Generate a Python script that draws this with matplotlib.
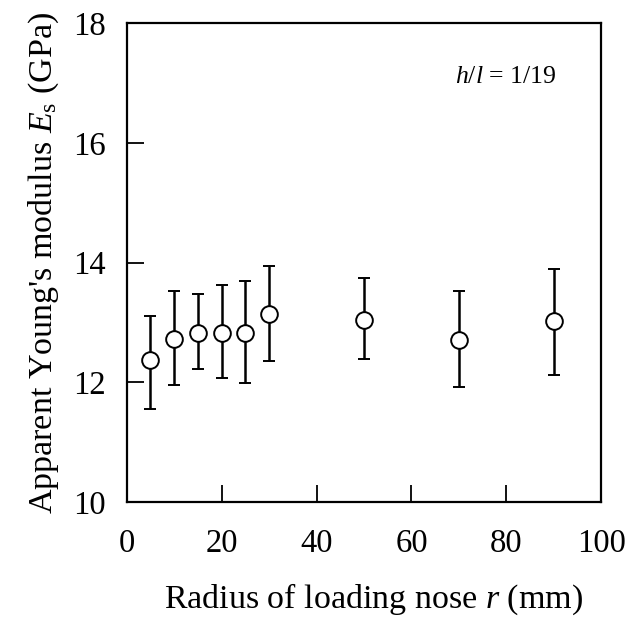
import matplotlib
matplotlib.use("Agg")
import matplotlib.pyplot as plt

plt.rcParams['font.family'] = 'Liberation Serif'
plt.rcParams['mathtext.fontset'] = 'custom'
plt.rcParams['mathtext.rm'] = 'Liberation Serif'
plt.rcParams['mathtext.it'] = 'Liberation Serif:italic'

# nose radius (mm) and apparent modulus (GPa)
radius = [5, 10, 15, 20, 25, 30, 50, 70, 90]
modulus = [12.37, 12.73, 12.82, 12.83, 12.82, 13.14, 13.04, 12.70, 13.02]
err_hi = [13.11, 13.53, 13.48, 13.62, 13.70, 13.94, 13.74, 13.53, 13.90]
err_lo = [11.56, 11.95, 12.23, 12.08, 11.99, 12.35, 12.39, 11.93, 12.13]

xticks = [0, 20, 40, 60, 80, 100]
yticks = [10, 12, 14, 16, 18]

lower = [m - lo for m, lo in zip(modulus, err_lo)]
upper = [hi - m for m, hi in zip(modulus, err_hi)]

fig = plt.figure(figsize=(6.38, 6.23), dpi=100)
ax = fig.add_axes([0.1985, 0.194, 0.744, 0.769])

ax.errorbar(radius, modulus, yerr=[lower, upper], fmt='o', color='black',
            mfc='white', mec='black', ms=12, mew=1.4, elinewidth=1.8,
            capsize=4.5, capthick=1.8)

ax.set_xlim(0, 100)
ax.set_ylim(10, 18)
ax.set_xticks(xticks)
ax.set_yticks(yticks)
ax.tick_params(direction='in', length=12, width=1.3, labelsize=23.5)
ax.tick_params(axis='x', pad=19)
ax.tick_params(axis='y', pad=15)
for s in ax.spines.values():
    s.set_linewidth(1.6)

ax.set_xlabel(r'Radius of loading nose $r$ (mm)', fontsize=24.5, labelpad=18)
ax.xaxis.set_label_coords(0.52, -0.165)
ax.set_ylabel(r"Apparent Young's modulus $E_{\mathrm{s}}$ (GPa)", fontsize=24.5, labelpad=9)
ax.text(0.906, 0.874, r'$h/l$ = 1/19', transform=ax.transAxes, fontsize=18.5,
        ha='right')

fig.savefig('out.png', dpi=100)
